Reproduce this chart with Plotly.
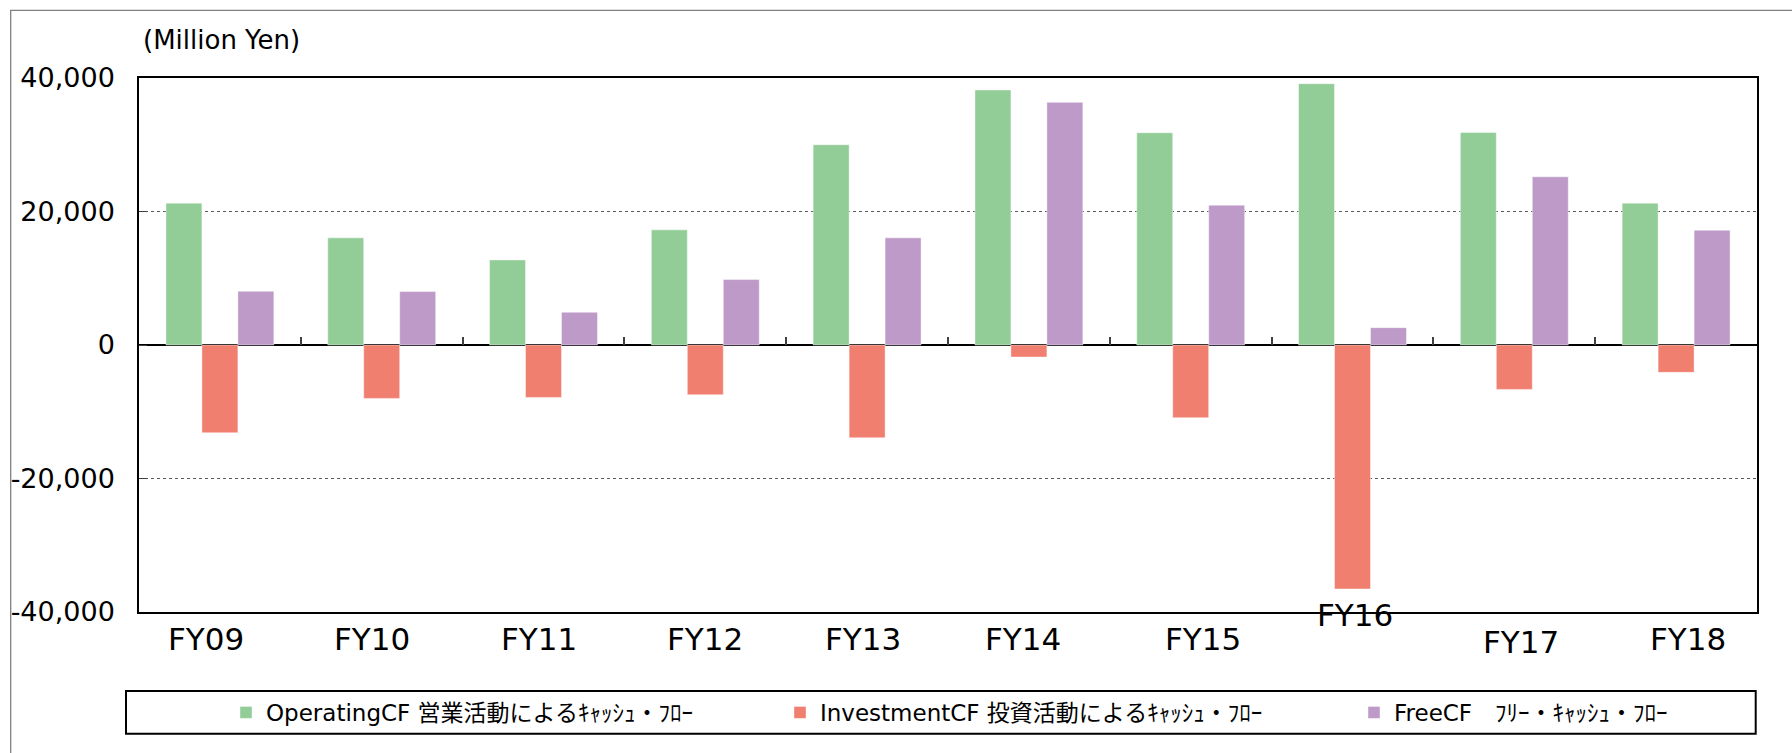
import plotly.graph_objects as go

# ---------------- data ----------------
categories = ["FY09", "FY10", "FY11", "FY12", "FY13", "FY14", "FY15", "FY16", "FY17", "FY18"]
operating_cf = [21250, 16050, 12750, 17250, 30000, 38200, 31800, 39150, 31850, 21250]
investment_cf = [-13150, -8000, -7850, -7450, -13900, -1800, -10900, -36550, -6650, -4100]
free_cf = [8050, 8000, 4900, 9800, 16050, 36350, 20950, 2600, 25200, 17200]
series_names = ["OperatingCF 営業活動によるｷｬｯｼｭ・ﾌﾛｰ",
                "InvestmentCF 投資活動によるｷｬｯｼｭ・ﾌﾛｰ",
                "FreeCF　ﾌﾘｰ・ｷｬｯｼｭ・ﾌﾛｰ"]
y_tickvals = [-40000, -20000, 0, 20000, 40000]
y_ticktext = ["-40,000", "-20,000", "0", "20,000", "40,000"]
unit_label = "(Million Yen)"

# ---------------- style ----------------
W, H = 1792, 753
ML, MR, MT, MB = 139, 35, 78, 141
FONT = "DejaVu Sans, Noto Sans CJK JP, sans-serif"
colors = ["#92CD97", "#F07F70", "#BE9AC8"]
legend_ids = ["legend", "legend2", "legend3"]
legend_px = [226, 780, 1354]  # left edge of each legend entry (px)
# manual offsets of category labels (px), as in the original
label_dx = [-14, -10, -5, 0, -4, -6, 12, 2, 7, 12]
label_dy = [0, 0, 0, 0, 0, 0, 0, 24, -3, 0]

plot_w = W - ML - MR
plot_h = H - MT - MB


def px_x(p):
    return (p - ML) / plot_w


def px_y(p):
    return (H - MB - p) / plot_h


fig = go.Figure()
for name, vals, col, lg in zip(series_names, [operating_cf, investment_cf, free_cf], colors, legend_ids):
    fig.add_trace(go.Bar(
        x=categories, y=vals, name=name, legend=lg,
        marker=dict(color=col, line=dict(color="rgba(255,255,255,0.55)", width=0.8)),
    ))

ymin, ymax = y_tickvals[0], y_tickvals[-1]

annotations = [
    dict(text=unit_label, xref="paper", yref="paper", x=0, y=1, xanchor="left",
         yanchor="middle", xshift=2, yshift=38, showarrow=False,
         font=dict(size=26, color="black", family=FONT))
]
for c, dx, dy in zip(categories, label_dx, label_dy):
    annotations.append(dict(text=c, xref="x", yref="paper", x=c, y=0, xanchor="center",
                            yanchor="middle", xshift=dx, yshift=-27 + dy, showarrow=False,
                            font=dict(size=31, color="black", family=FONT)))

shapes = [
    # outer chart border
    dict(type="rect", xref="paper", yref="paper", x0=px_x(10.7), x1=px_x(W + 20),
         y0=px_y(H + 20), y1=px_y(10.3), line=dict(color="#808080", width=1.3),
         layer="below"),
    # legend border
    dict(type="rect", xref="paper", yref="paper", x0=px_x(126), x1=px_x(1755.7),
         y0=px_y(733.7), y1=px_y(691), line=dict(color="black", width=2)),
]

legend_common = dict(orientation="h", xanchor="left", y=px_y(712.5), yanchor="middle",
                     font=dict(size=23, family=FONT, color="black"),
                     bgcolor="rgba(0,0,0,0)", borderwidth=0)

fig.update_layout(
    template="none",
    width=W, height=H,
    margin=dict(l=ML, r=MR, t=MT, b=MB, pad=0, autoexpand=False),
    paper_bgcolor="white", plot_bgcolor="white",
    barmode="group", bargap=0.333, bargroupgap=0,
    font=dict(family=FONT, color="black"),
    showlegend=True,
    annotations=annotations,
    shapes=shapes,
    xaxis=dict(type="category", showticklabels=False, ticks="", showgrid=False,
               showline=True, mirror=True, linecolor="black", linewidth=1.5,
               zeroline=False, automargin=False),
    xaxis2=dict(overlaying="x", anchor="free", side="top",
                position=(0 - ymin) / (ymax - ymin),
                range=[-0.5, len(categories) - 0.5],
                tickmode="array", tickvals=[i + 0.5 for i in range(len(categories) - 1)],
                ticks="outside", ticklen=8, tickwidth=1.5, tickcolor="#404040",
                showticklabels=False, showgrid=False, showline=False, zeroline=False,
                automargin=False),
    yaxis=dict(range=[ymin, ymax], tickmode="array", tickvals=y_tickvals, ticktext=y_ticktext,
               ticks="inside", ticklen=8, tickcolor="#404040", tickwidth=1.3,
               tickfont=dict(size=27, color="black", family=FONT),
               ticklabelstandoff=17, automargin=False,
               showgrid=True, gridcolor="#5a5a5a", griddash="dot", gridwidth=1,
               zeroline=True, zerolinecolor="black", zerolinewidth=1.5,
               showline=True, mirror=True, linecolor="black", linewidth=1.5),
)
for lg, lx in zip(legend_ids, legend_px):
    fig.update_layout({lg: dict(legend_common, x=px_x(lx))})

# invisible helper trace so that xaxis2 (category separators on the zero line) is drawn
fig.add_trace(go.Scatter(x=[None], y=[None], xaxis="x2", showlegend=False, hoverinfo="skip"))

fig.write_html("out.html", config={"displayModeBar": False},
               post_script="document.body.style.margin='0';document.body.style.overflow='hidden';")
